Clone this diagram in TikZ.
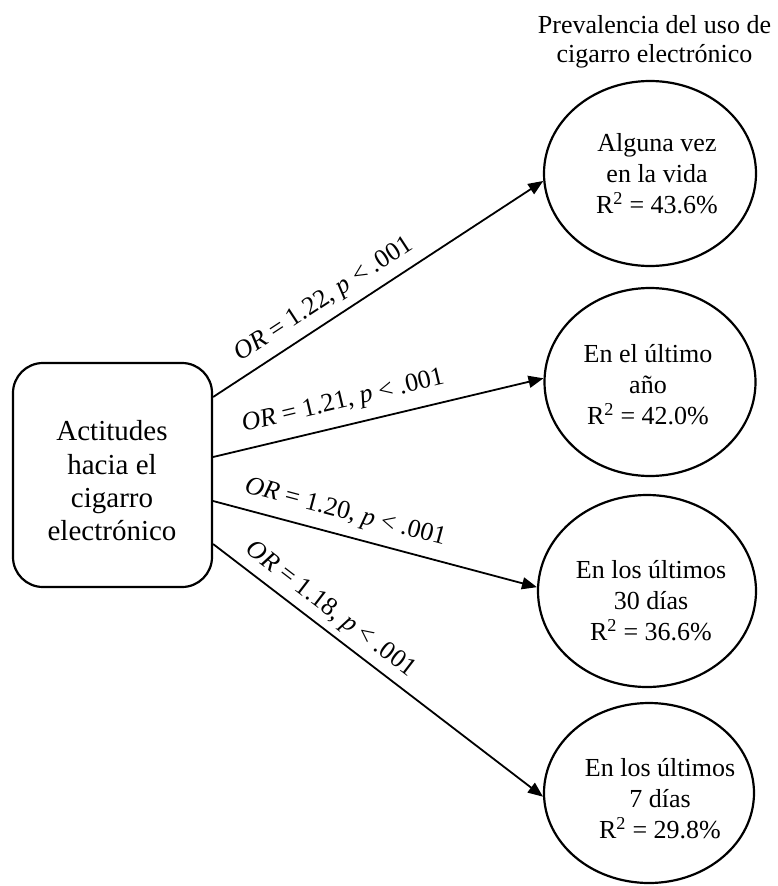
\documentclass[tikz,border=0pt]{standalone}
\usepackage{fontspec}
\setmainfont{Liberation Serif}
\usetikzlibrary{shapes.geometric,arrows.meta}
\begin{document}
\begin{tikzpicture}[x=1pt,y=-1pt,
  shapeline/.style={draw=black, line width=2.2pt},
  factor/.style={shapeline, rectangle, rounded corners=30pt,
    minimum width=199pt, minimum height=224pt, inner sep=0pt},
  outcome/.style={shapeline, ellipse, inner sep=0pt},
  boxtext/.style={align=center, font=\fontsize{29}{33.3}\selectfont},
  ellipsetext/.style={align=center, font=\fontsize{26}{31}\selectfont},
  headtext/.style={align=center, font=\fontsize{26}{29.5}\selectfont},
  effect/.style={line width=1.8pt, -{Triangle[length=15pt,width=12pt]}},
  coef/.style={sloped, inner sep=0pt, font=\fontsize{26}{30}\selectfont}
]
\useasboundingbox (0,0) rectangle (778,886);

% predictor
\node[factor] (box) at (112.5,475) {};
\node[boxtext] (boxlabel) at (112,481) {Actitudes\\hacia el\\cigarro\\electrónico};

% heading over the outcomes
\node[headtext] (head) at (654.5,42) {Prevalencia del uso de\\cigarro electrónico};

% outcomes
\node[outcome, minimum width=212pt, minimum height=185pt] (e1) at (650,173.5) {};
\node[outcome, minimum width=211pt, minimum height=188pt] (e2) at (650,382) {};
\node[outcome, minimum width=218pt, minimum height=192pt] (e3) at (647,591) {};
\node[outcome, minimum width=210pt, minimum height=180pt] (e4) at (649,793) {};

\node[ellipsetext] (t1) at (657,173.5) {Alguna vez\\en la vida\\R\textsuperscript{2} = 43.6\%};
\node[ellipsetext] (t2) at (648,385) {En el último\\año\\R\textsuperscript{2} = 42.0\%};
\node[ellipsetext] (t3) at (651,601) {En los últimos\\30 días\\R\textsuperscript{2} = 36.6\%};
\node[ellipsetext] (t4) at (660,799) {En los últimos\\7 días\\R\textsuperscript{2} = 29.8\%};

% paths with odds ratios
\draw[effect] ([yshift=78pt]box.east) -- (e1.184.5)
  node[coef, pos=.37, above=8pt] (c1) {\textit{OR} = 1.22, \textit{p} < .001};
\draw[effect] ([yshift=18pt]box.east) -- (e2.178)
  node[coef, pos=.41, above=11pt] (c2) {\textit{OR} = 1.21, \textit{p} < .001};
\draw[effect] ([yshift=-26pt]box.east) -- (e3.178)
  node[coef, pos=.39, above=10pt] (c3) {\textit{OR} = 1.20, \textit{p} < .001};
\draw[effect] ([yshift=-69pt]box.east) -- (e4.182)
  node[coef, pos=.32, above=6.5pt] (c4) {\textit{OR} = 1.18, \textit{p} < .001};
\end{tikzpicture}
\end{document}
